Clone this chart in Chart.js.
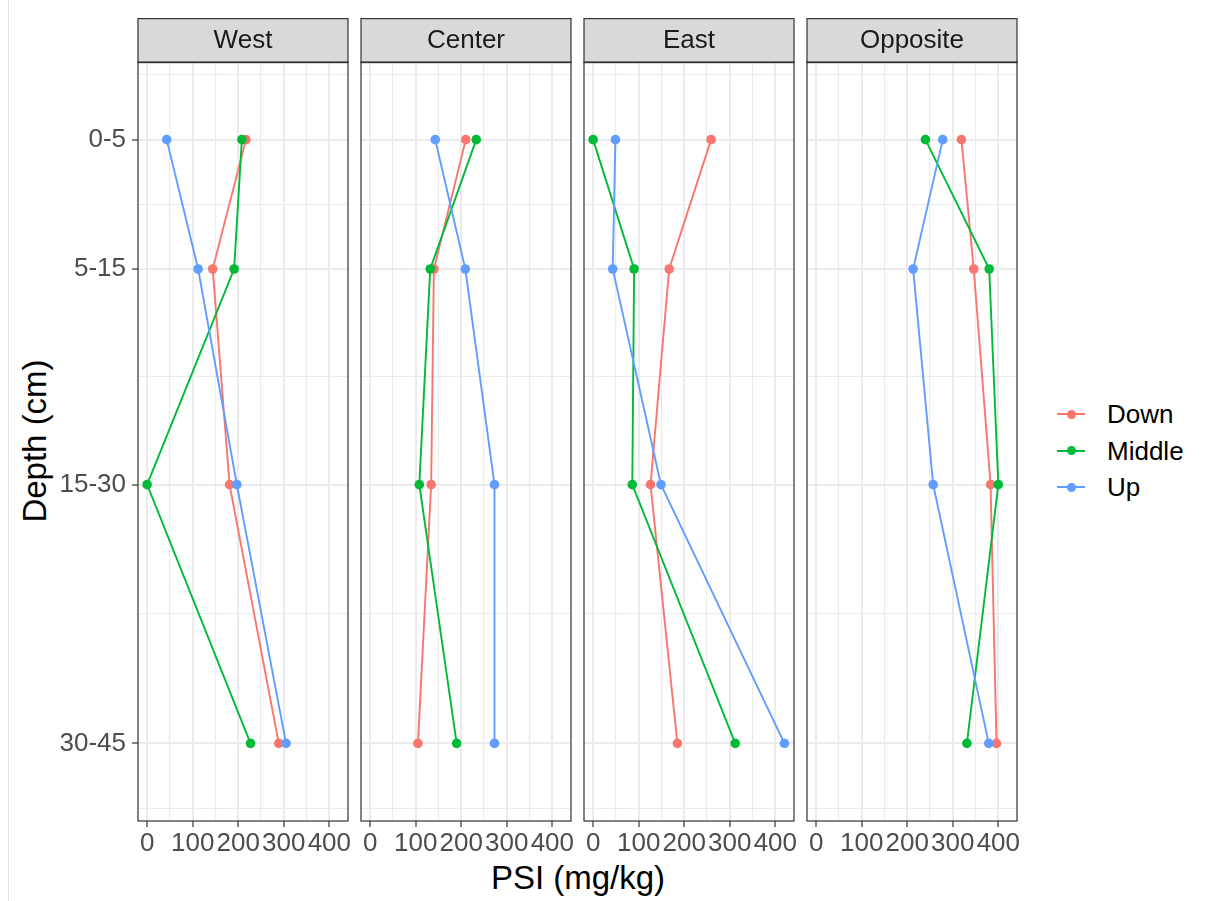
<!DOCTYPE html>
<html>
<head>
<meta charset="UTF-8">
<title>PSI by depth</title>
<script src="https://cdn.jsdelivr.net/npm/chart.js@4.4.1/dist/chart.umd.min.js"></script>
<style>
  body { margin: 0; background: #fff; font-family: "Liberation Sans", Arial, sans-serif; }
  #wrap { position: relative; width: 1207px; height: 901px; overflow: hidden; }
  #wrap canvas { position: absolute; }
  #edge { position: absolute; left: 8px; top: 0; width: 1px; height: 901px; background: #e3e3e3; }
  .title { position: absolute; font-size: 33px; color: #000; white-space: nowrap; transform: translate(-50%, -50%); }
  #ytitle { left: 35px; top: 441px; transform: translate(-50%, -50%) rotate(-90deg); }
  #xtitle { left: 578px; top: 878px; }
  .lg { position: absolute; height: 30px; }
  .lg .ln { position: absolute; left: 0; top: 14px; width: 28px; height: 2px; }
  .lg .pt { position: absolute; left: 9.5px; top: 10.5px; width: 9px; height: 9px; border-radius: 50%; }
  .lg .tx { position: absolute; left: 50px; top: 0; font-size: 26px; line-height: 30px; color: #000; }
</style>
</head>
<body>
<div id="wrap">
  <div id="edge"></div>
  <div class="title" id="ytitle">Depth (cm)</div>
  <div class="title" id="xtitle">PSI (mg/kg)</div>
</div>

<script>
// categories
const sites = ['West', 'Center', 'East', 'Opposite'];
const depths = ['0-5', '5-15', '15-30', '30-45'];
const positions = ['Down', 'Middle', 'Up'];
const colors = ['#F8766D', '#00BA38', '#619CFF'];
const xTicks = [0, 100, 200, 300, 400];

// PSI (mg/kg) per depth
const westDown = [217, 144, 181, 289];
const westMiddle = [208, 191, 0, 227];
const westUp = [43, 112, 197, 305];
const centerDown = [210, 140, 134, 105];
const centerMiddle = [233, 132, 108, 190];
const centerUp = [143, 209, 273, 273];
const eastDown = [259, 167, 126, 185];
const eastMiddle = [0, 90, 86, 312];
const eastUp = [49, 43, 149, 420];
const oppositeDown = [319, 346, 383, 396];
const oppositeMiddle = [240, 380, 400, 331];
const oppositeUp = [278, 213, 257, 379];

const psi = {
  West: [westDown, westMiddle, westUp],
  Center: [centerDown, centerMiddle, centerUp],
  East: [eastDown, eastMiddle, eastUp],
  Opposite: [oppositeDown, oppositeMiddle, oppositeUp]
};

// depth classes are placed at their midpoints
const depthMid = depths.map(d => { const p = d.split('-').map(Number); return (p[0] + p[1]) / 2; });

const xMin = -20, xMax = 441, yMin = -2, yMax = 42;

// major + minor grid values
const xGrid = [];
xTicks.forEach((v, i) => {
  xGrid.push(v);
  if (i < xTicks.length - 1) xGrid.push((v + xTicks[i + 1]) / 2);
});
const firstGap = depthMid[1] - depthMid[0];
const yGrid = [depthMid[0] - firstGap / 2];
depthMid.forEach((v, i) => {
  yGrid.push(v);
  if (i < depthMid.length - 1) yGrid.push((v + depthMid[i + 1]) / 2);
});
yGrid.push(depthMid[depthMid.length - 1] + firstGap / 2);

const font = '"Liberation Sans", Arial, sans-serif';
const stripH = 44;
const panelW = 210, panelGap = 13, firstLeft = 138, sidePad = 20;

const facetPlugin = {
  id: 'facet',
  afterDraw(chart, args, opts) {
    const ctx = chart.ctx, a = chart.chartArea;
    ctx.save();
    ctx.fillStyle = '#D9D9D9';
    ctx.fillRect(a.left, a.top - stripH, a.right - a.left, stripH);
    ctx.strokeStyle = '#333333';
    ctx.lineWidth = 1.2;
    ctx.strokeRect(a.left, a.top - stripH + 0.6, a.right - a.left, stripH);
    ctx.strokeRect(a.left, a.top, a.right - a.left, a.bottom - a.top);
    ctx.fillStyle = '#1A1A1A';
    ctx.font = '26px ' + font;
    ctx.textAlign = 'center';
    ctx.textBaseline = 'middle';
    ctx.fillText(opts.label, (a.left + a.right) / 2, a.top - stripH / 2 + 1);
    ctx.restore();
  }
};

function makeDatasets(site) {
  const ds = [];
  positions.forEach((p, k) => {
    const pts = psi[site][k].map((v, j) => ({ x: v, y: depthMid[j] }));
    ds.push({ label: p, data: pts, showLine: true, borderColor: colors[k], borderWidth: 1.9,
      pointRadius: 0, order: 12 - k });
    ds.push({ label: p, data: pts, showLine: false, backgroundColor: colors[k], borderColor: colors[k],
      pointRadius: 4.8, pointBorderWidth: 0, order: 2 - k });
  });
  return ds;
}

const isMinor = c => c.tick && c.tick.minor;

sites.forEach((site, i) => {
  const first = i === 0;
  const left = firstLeft + i * (panelW + panelGap);
  const cv = document.createElement('canvas');
  const padL = first ? 0 : sidePad;
  const w = (first ? left : padL) + panelW + 6;
  const h = 847;
  cv.width = w; cv.height = h;
  cv.style.width = w + 'px'; cv.style.height = h + 'px';
  cv.style.left = (first ? 0 : left - padL) + 'px';
  cv.style.top = '18px';
  document.getElementById('wrap').appendChild(cv);

  new Chart(cv, {
    type: 'scatter',
    data: { datasets: makeDatasets(site) },
    options: {
      responsive: false,
      animation: false,
      events: [],
      layout: { padding: { top: stripH, right: 6, left: padL, bottom: 0 } },
      plugins: { legend: { display: false }, tooltip: { enabled: false }, facet: { label: site } },
      scales: {
        x: {
          type: 'linear', min: xMin, max: xMax,
          afterBuildTicks: s => { s.ticks = xGrid.map(v => ({ value: v, minor: !xTicks.includes(v) })); },
          afterFit: s => { s.height = 44; },
          border: { display: false },
          grid: {
            color: '#EBEBEB',
            lineWidth: c => isMinor(c) ? 1.1 : 2,
            tickLength: 6,
            tickWidth: 1.2,
            tickColor: c => isMinor(c) ? 'rgba(0,0,0,0)' : '#333333'
          },
          ticks: {
            autoSkip: false, maxRotation: 0, minRotation: 0, padding: 1,
            color: '#4D4D4D', font: { family: font, size: 26 },
            callback: (v, idx, t) => t[idx].minor ? '' : String(v)
          }
        },
        y: {
          type: 'linear', reverse: true, min: yMin, max: yMax,
          afterBuildTicks: s => { s.ticks = yGrid.map(v => ({ value: v, minor: !depthMid.includes(v) })); },
          afterFit: s => { s.width = first ? left : 0; },
          border: { display: false },
          grid: {
            color: '#EBEBEB',
            lineWidth: c => isMinor(c) ? 1.1 : 2,
            drawTicks: first,
            tickLength: 6,
            tickWidth: 1.2,
            tickColor: c => isMinor(c) ? 'rgba(0,0,0,0)' : '#333333'
          },
          ticks: {
            display: first, padding: 6,
            color: '#4D4D4D', font: { family: font, size: 26 },
            callback: (v, idx, t) => t[idx].minor ? '' : depths[depthMid.indexOf(v)]
          }
        }
      }
    },
    plugins: [facetPlugin]
  });
});

// legend
const wrap = document.getElementById('wrap');
positions.forEach((p, k) => {
  const row = document.createElement('div');
  row.className = 'lg';
  row.style.left = '1057px';
  row.style.top = (399 + k * 36.5) + 'px';
  row.innerHTML = '<div class="ln" style="background:' + colors[k] + '"></div>' +
    '<div class="pt" style="background:' + colors[k] + '"></div>' +
    '<div class="tx">' + p + '</div>';
  wrap.appendChild(row);
});
</script>
</body>
</html>
